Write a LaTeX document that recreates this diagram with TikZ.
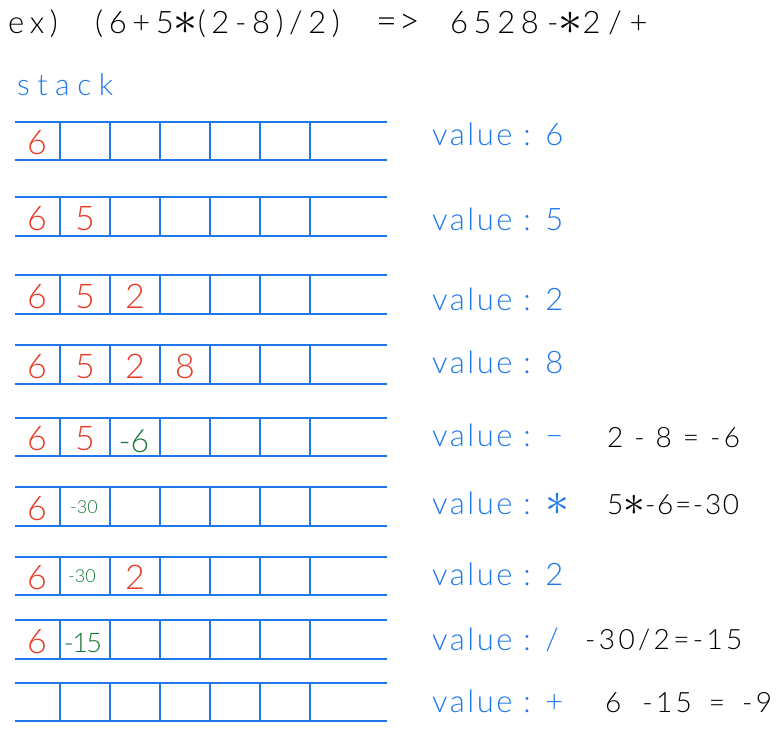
\documentclass[tikz,border=0pt]{standalone}
\usepackage{fontspec}
\setmainfont{Lato Light}
\definecolor{gblue}{RGB}{30,120,235}
\definecolor{hred}{RGB}{232,58,40}
\definecolor{hgreen}{RGB}{25,120,55}
\newcommand{\hast}{\raisebox{-0.04em}{\resizebox{!}{0.72em}{$\ast$}}}
\tikzset{
  gridline/.style={gblue, line width=1.6pt},
  txt/.style={inner sep=0pt, anchor=base west},
  titletxt/.style={txt, black, font=\fontsize{31}{31}\selectfont\addfontfeatures{LetterSpace=18}},
  valtxt/.style={txt, gblue, font=\fontsize{31}{31}\selectfont\addfontfeatures{LetterSpace=8}},
  calctxt/.style={txt, black, font=\fontsize{28}{28}\selectfont\addfontfeatures{LetterSpace=12}},
  rednum/.style={inner sep=0pt, anchor=base, hred, font=\fontsize{34}{34}\selectfont},
  greennum/.style={inner sep=0pt, anchor=base, hgreen, font=\fontsize{28}{28}\selectfont},
  smallgreen/.style={inner sep=0pt, anchor=base, hgreen, font=\fontsize{18}{18}\selectfont},
}
\begin{document}
\begin{tikzpicture}[x=1pt,y=-1pt]
\useasboundingbox (0,0) rectangle (782,736);
% title
\node[titletxt] (t1) at (8,33) {ex)};
\node[titletxt] (t2) at (95,33) {(6+5\hast(2-8)/2)};
\node[txt, black, font=\fontsize{36}{36}\selectfont\addfontfeatures{LetterSpace=5}] (t3) at (376,34) {=>};
\node[titletxt] (t4) at (450,33) {6528};
\node[titletxt, font=\fontsize{31}{31}\selectfont\addfontfeatures{LetterSpace=25}] (t5) at (547,33) {-\hast2/+};
\node[txt, gblue, font=\fontsize{30}{30}\selectfont\addfontfeatures{LetterSpace=25}] (stk) at (17,95) {stack};
% grid rows
\foreach \t/\b in {122/160,197/236,275/314,345/384,418/456,487/526,557/595,620/659,683/721}{
  \draw[gridline] (15,\t) -- (387,\t);
  \draw[gridline] (15,\b) -- (387,\b);
  \foreach \x in {60,110,160,210,260,310}{
    \draw[gridline] (\x,\t) -- (\x,\b);
  }
}
% row contents
\node[rednum] (r1a) at (37,154) {6};
\node[rednum] (r2a) at (37,230) {6};
\node[rednum] (r2b) at (85,230) {5};
\node[rednum] (r3a) at (37,308) {6};
\node[rednum] (r3b) at (85,308) {5};
\node[rednum] (r3c) at (135,308) {2};
\node[rednum] (r4a) at (37,378) {6};
\node[rednum] (r4b) at (85,378) {5};
\node[rednum] (r4c) at (135,378) {2};
\node[rednum] (r4d) at (185,378) {8};
\node[rednum] (r5a) at (37,450) {6};
\node[rednum] (r5b) at (85,450) {5};
\node[greennum, font=\fontsize{32}{32}\selectfont] (r5c) at (134,452) {-6};
\node[rednum] (r6a) at (37,520) {6};
\node[smallgreen] (r6b) at (84,513) {-30};
\node[rednum] (r7a) at (37,589) {6};
\node[smallgreen] (r7b) at (82,582) {-30};
\node[rednum] (r7c) at (135,589) {2};
\node[rednum] (r8a) at (37,653) {6};
\node[greennum, font=\fontsize{27}{27}\selectfont\addfontfeatures{LetterSpace=-6}] (r8b) at (83,652) {-15};
% value labels
\node[valtxt] (v1) at (432,145) {value : 6};
\node[valtxt] (v2) at (432,230) {value : 5};
\node[valtxt] (v3) at (432,310) {value : 2};
\node[valtxt] (v4) at (432,373) {value : 8};
\node[valtxt] (v5) at (432,446) {value : −};
\node[valtxt] (v6) at (432,514) {value : \hast};
\node[valtxt] (v7) at (432,585) {value : 2};
\node[valtxt] (v8) at (432,650) {value : /};
\node[valtxt] (v9) at (432,712) {value : +};
% calculations
\node[calctxt] (c5) at (607,447) {2 - 8 = -6};
\node[calctxt, font=\fontsize{28}{28}\selectfont\addfontfeatures{LetterSpace=6}] (c6) at (607,514) {5\hast-6=-30};
\node[calctxt] (c8) at (585,649) {-30/2=-15};
\node[calctxt] (c9) at (605,712) {6\hspace{10pt} -15\hspace{6pt} =\hspace{6pt} -9};
\end{tikzpicture}
\end{document}
